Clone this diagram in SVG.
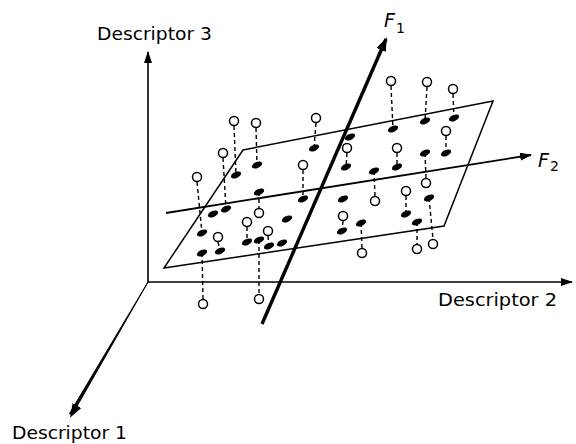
<svg xmlns="http://www.w3.org/2000/svg" width="576" height="444" viewBox="0 0 576 444">
<style>
.ax{stroke:#000;stroke-width:1.6;fill:none}
.plane{stroke:#000;stroke-width:1.5;fill:none}
.dash{stroke:#000;stroke-width:1.4;stroke-dasharray:4 3;fill:none}
.o{fill:#fff;stroke:#000;stroke-width:1.5}
.lbl{font-family:"DejaVu Sans",sans-serif;font-size:18px;fill:#000}
.f{font-family:"DejaVu Sans",sans-serif;font-style:italic;fill:#000}
</style>
<defs>
<marker id="ah" viewBox="0 0 12 8" refX="11" refY="4" markerWidth="12" markerHeight="8" markerUnits="userSpaceOnUse" orient="auto"><path d="M0,0 L12,4 L0,8 z" fill="#000"/></marker>
<marker id="ahb" viewBox="0 0 14 10" refX="12" refY="5" markerWidth="14" markerHeight="10" markerUnits="userSpaceOnUse" orient="auto"><path d="M0,0 L14,5 L0,10 z" fill="#000"/></marker>
<ellipse id="el" cx="0" cy="0" rx="5.5" ry="3" transform="rotate(-25)"/>
</defs>
<g id="axes">
<line class="ax" x1="148" y1="282" x2="148" y2="52" marker-end="url(#ah)"/>
<line class="ax" x1="148" y1="282" x2="572" y2="282" marker-end="url(#ah)"/>
<path d="M148,282 L72,415 L69.5,413.5 Z" fill="#000" stroke="#000" stroke-width="1"/>
<line x1="148" y1="282" x2="71" y2="416" stroke="none" marker-end="url(#ahb)"/>
</g>
<g id="plane">
<polygon class="plane" points="243,150 493,101 444,226 164,268"/>
</g>
<g id="connectors">
<line class="dash" x1="234" y1="126" x2="236" y2="175"/>
<line class="dash" x1="256" y1="128" x2="257" y2="165"/>
<line class="dash" x1="316" y1="123" x2="314" y2="148"/>
<line class="dash" x1="223" y1="158" x2="226" y2="209"/>
<line class="dash" x1="197" y1="182" x2="202" y2="233"/>
<line class="dash" x1="303" y1="170" x2="303" y2="199"/>
<line class="dash" x1="347" y1="153" x2="346" y2="167"/>
<line class="dash" x1="391" y1="86" x2="393" y2="129"/>
<line class="dash" x1="427" y1="87" x2="425" y2="121"/>
<line class="dash" x1="453" y1="94" x2="454" y2="118"/>
<line class="dash" x1="446" y1="136" x2="446" y2="153"/>
<line class="dash" x1="397" y1="153" x2="397" y2="167"/>
<line class="dash" x1="425" y1="153" x2="426" y2="178"/>
<line class="dash" x1="374" y1="171" x2="375" y2="196"/>
<line class="dash" x1="406" y1="196" x2="406" y2="214"/>
<line class="dash" x1="429" y1="198" x2="433" y2="239"/>
<line class="dash" x1="343" y1="221" x2="342" y2="231"/>
<line class="dash" x1="361" y1="223" x2="362" y2="248"/>
<line class="dash" x1="417" y1="222" x2="417" y2="244"/>
<line class="dash" x1="259" y1="192" x2="259" y2="208"/>
<line class="dash" x1="247" y1="227" x2="247" y2="242"/>
<line class="dash" x1="218" y1="242" x2="220" y2="251"/>
<line class="dash" x1="268" y1="236" x2="269" y2="246"/>
<line class="dash" x1="259" y1="240" x2="259" y2="294"/>
<line class="dash" x1="202" y1="253" x2="203" y2="299"/>
</g>
<g id="factor-axes">
<line x1="166" y1="213" x2="531" y2="155" stroke="#000" stroke-width="1.8" marker-end="url(#ah)"/>
<line x1="262" y1="324" x2="386" y2="39" stroke="#000" stroke-width="3.4" marker-end="url(#ahb)"/>
</g>
<g id="points">
<g id="p1"><use href="#el" transform="translate(236,175)"/><circle class="o" cx="234" cy="121" r="4.5"/></g>
<g id="p2"><use href="#el" transform="translate(257,165)"/><circle class="o" cx="256" cy="123" r="4.5"/></g>
<g id="p3"><use href="#el" transform="translate(314,148)"/><circle class="o" cx="316" cy="118" r="4.5"/></g>
<g id="p4"><use href="#el" transform="translate(226,209)"/><circle class="o" cx="223" cy="153" r="4.5"/></g>
<g id="p5"><use href="#el" transform="translate(202,233)"/><circle class="o" cx="197" cy="177" r="4.5"/></g>
<g id="p6"><use href="#el" transform="translate(303,199)"/><circle class="o" cx="303" cy="165" r="4.5"/></g>
<g id="p7"><use href="#el" transform="translate(346,167)"/><circle class="o" cx="347" cy="148" r="4.5"/></g>
<g id="p8"><use href="#el" transform="translate(393,129)"/><circle class="o" cx="391" cy="81" r="4.5"/></g>
<g id="p9"><use href="#el" transform="translate(425,121)"/><circle class="o" cx="427" cy="82" r="4.5"/></g>
<g id="p10"><use href="#el" transform="translate(454,118)"/><circle class="o" cx="453" cy="89" r="4.5"/></g>
<g id="p11"><use href="#el" transform="translate(446,153)"/><circle class="o" cx="446" cy="131" r="4.5"/></g>
<g id="p12"><use href="#el" transform="translate(397,167)"/><circle class="o" cx="397" cy="148" r="4.5"/></g>
<g id="p13"><use href="#el" transform="translate(425,153)"/><circle class="o" cx="426" cy="183" r="4.5"/></g>
<g id="p14"><use href="#el" transform="translate(374,171)"/><circle class="o" cx="375" cy="201" r="4.5"/></g>
<g id="p15"><use href="#el" transform="translate(406,214)"/><circle class="o" cx="406" cy="191" r="4.5"/></g>
<g id="p16"><use href="#el" transform="translate(429,198)"/><circle class="o" cx="433" cy="244" r="4.5"/></g>
<g id="p17"><use href="#el" transform="translate(342,231)"/><circle class="o" cx="343" cy="216" r="4.5"/></g>
<g id="p18"><use href="#el" transform="translate(361,223)"/><circle class="o" cx="362" cy="253" r="4.5"/></g>
<g id="p19"><use href="#el" transform="translate(417,222)"/><circle class="o" cx="417" cy="249" r="4.5"/></g>
<g id="p20"><use href="#el" transform="translate(259,192)"/><circle class="o" cx="259" cy="213" r="4.5"/></g>
<g id="p21"><use href="#el" transform="translate(247,242)"/><circle class="o" cx="247" cy="222" r="4.5"/></g>
<g id="p22"><use href="#el" transform="translate(220,251)"/><circle class="o" cx="218" cy="237" r="4.5"/></g>
<g id="p23"><use href="#el" transform="translate(269,246)"/><circle class="o" cx="268" cy="231" r="4.5"/></g>
<g id="p24"><use href="#el" transform="translate(259,240)"/><circle class="o" cx="259" cy="299" r="4.5"/></g>
<g id="p25"><use href="#el" transform="translate(202,253)"/><circle class="o" cx="203" cy="304" r="4.5"/></g>
<g id="p26"><use href="#el" transform="translate(350,137)"/></g>
<g id="p27"><use href="#el" transform="translate(343,199)"/></g>
<g id="p28"><use href="#el" transform="translate(213,214)"/></g>
<g id="p29"><use href="#el" transform="translate(287,219)"/></g>
<g id="p30"><use href="#el" transform="translate(282,243)"/></g>
</g>
<g id="labels">
<text class="lbl" x="97" y="40" textLength="115" lengthAdjust="spacingAndGlyphs">Descriptor 3</text>
<text class="lbl" x="438" y="306" textLength="119" lengthAdjust="spacingAndGlyphs">Descriptor 2</text>
<text class="lbl" x="12" y="439" textLength="115" lengthAdjust="spacingAndGlyphs">Descriptor 1</text>
<text class="f" x="384" y="27" font-size="19">F<tspan font-size="14" font-style="normal" x="396" y="33">1</tspan></text>
<text class="f" x="538" y="167" font-size="19">F<tspan font-size="14" font-style="normal" x="550" y="171">2</tspan></text>
</g>
</svg>
